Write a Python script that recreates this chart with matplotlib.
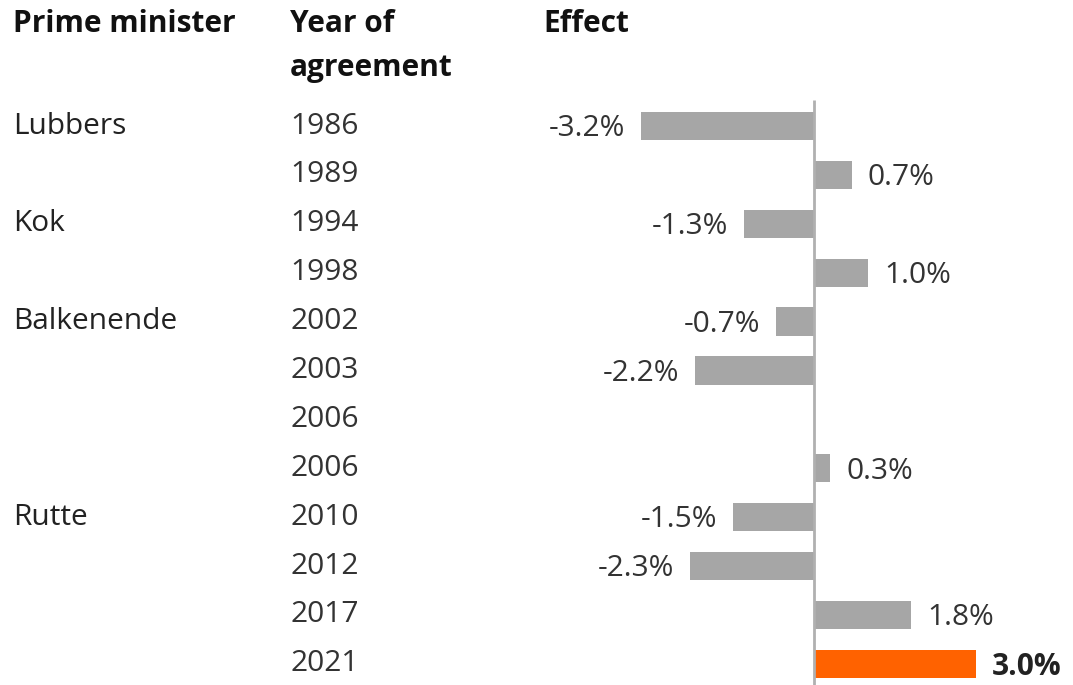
import matplotlib
matplotlib.use('Agg')
import matplotlib.pyplot as plt
import matplotlib.transforms as transforms
import numpy as np

# data
years = ['1986', '1989', '1994', '1998', '2002', '2003', '2006', '2006', '2010', '2012', '2017', '2021']
effect = [-3.2, 0.7, -1.3, 1.0, -0.7, -2.2, np.nan, 0.3, -1.5, -2.3, 1.8, 3.0]
prime_ministers = ['Lubbers', '', 'Kok', '', 'Balkenende', '', '', '', 'Rutte', '', '', '']

plt.rcParams['font.family'] = ['Open Sans', 'DejaVu Sans']

grey = '#a6a6a6'
orange = '#ff6200'
text_col = '#333333'
fs = 21.5

fig = plt.figure(figsize=(10.73, 6.85), dpi=100)
ax = fig.add_axes([0, 0, 1, 1])

y = np.arange(len(years))
colors = [grey] * (len(years) - 1) + [orange]
bars = ax.barh(y, effect, height=0.58, color=colors)

# zero line
ax.vlines(0, -0.53, 11.5, color='#b0b0b0', linewidth=2)

ax.set_xlim(-814 / 54, (1073 - 814) / 54)
ax.set_ylim((685 - 126) / 48.9, -126 / 48.9)
ax.axis('off')

# value labels
for i, v in enumerate(effect):
    if np.isnan(v):
        continue
    bold = i == len(effect) - 1
    ax.annotate('{:.1f}%'.format(v),
                xy=(v, i), xytext=(11.5 if v > 0 else -11.5, -2),
                textcoords='offset points',
                ha='left' if v > 0 else 'right', va='center',
                fontsize=fs, color='#222222' if bold else text_col,
                fontweight='bold' if bold else 'normal')

# left columns
trans = transforms.blended_transform_factory(fig.transFigure, ax.transData)
for i, (pm, yr) in enumerate(zip(prime_ministers, years)):
    if pm:
        ax.text(13 / 1073, i, pm, transform=trans, ha='left', va='center',
                fontsize=fs, color='#222222')
    ax.text(290 / 1073, i, yr, transform=trans, ha='left', va='center',
            fontsize=fs, color=text_col)

# headers
for x, yy, s in [(13, 24, 'Prime minister'), (290, 24, 'Year of'),
                 (290, 68, 'agreement'), (543, 24, 'Effect')]:
    fig.text(x / 1073, 1 - yy / 685, s, ha='left', va='center',
             fontsize=fs, fontweight='bold', color='#111111')

fig.savefig('out.png', dpi=100)
